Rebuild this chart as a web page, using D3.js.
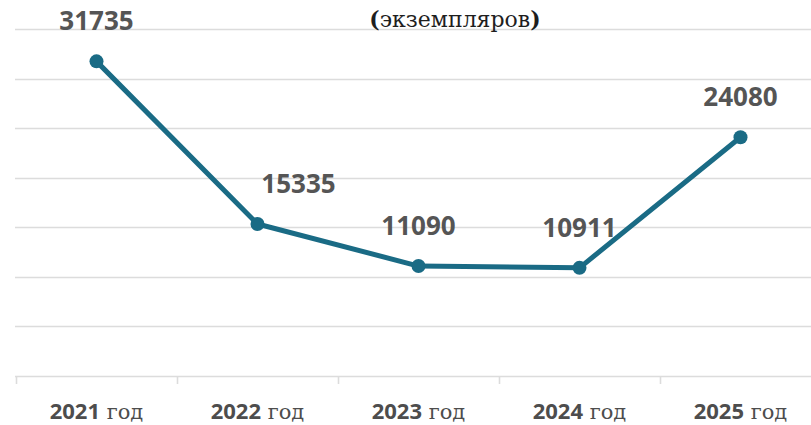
<!DOCTYPE html>
<html>
<head>
<meta charset="utf-8">
<script src="https://cdn.jsdelivr.net/npm/d3@7"></script>
<style>
  body { margin: 0; background: #fff; }
  svg { display: block; }
</style>
</head>
<body>
<svg id="chart" width="811" height="425"></svg>
<script>
// data
var years = ["2021", "2022", "2023", "2024", "2025"];
var copies = [31735, 15335, 11090, 10911, 24080];
var yTicks = [0, 5000, 10000, 15000, 20000, 25000, 30000, 35000];
var yearSuffix = "год";
var title = "экземпляров";

var svg = d3.select('#chart');
var W = 811, H = 425;

var xScale = d3.scaleBand()
    .domain(years)
    .range([16, 821]);

var yScale = d3.scaleLinear()
    .domain([0, 35000])
    .range([376, 29]);

// gridlines
svg.append("g")
    .selectAll("line")
    .data(yTicks)
    .enter()
    .append("line")
    .attr("x1", 15)
    .attr("x2", W)
    .attr("y1", function(d) { return Math.round(yScale(d)) + 0.5; })
    .attr("y2", function(d) { return Math.round(yScale(d)) + 0.5; })
    .style("stroke", "#dcdcdc")
    .style("stroke-width", 1.6);

// x axis tick marks (band edges)
svg.append("g")
    .selectAll("line")
    .data(years)
    .enter()
    .append("line")
    .attr("x1", function(d) { return Math.round(xScale(d)) + 0.5; })
    .attr("x2", function(d) { return Math.round(xScale(d)) + 0.5; })
    .attr("y1", yScale(0))
    .attr("y2", yScale(0) + 8)
    .style("stroke", "#dcdcdc")
    .style("stroke-width", 1.6);

// x labels
var xl = svg.append("g")
    .selectAll("text")
    .data(years)
    .enter()
    .append("text")
    .attr("x", function(d) { return xScale(d) + xScale.bandwidth() / 2; })
    .attr("y", 419)
    .attr("text-anchor", "middle")
    .style("fill", "#4d4d4d");
xl.append("tspan")
    .style("font-family", "'Open Sans', sans-serif")
    .style("font-weight", "bold")
    .style("font-size", "22px")
    .text(function(d) { return d; });
xl.append("tspan")
    .style("font-family", "'DejaVu Serif', serif")
    .style("font-size", "21px")
    .text(" " + yearSuffix);

// line
var line = d3.line()
    .x(function(d, i) { return xScale(years[i]) + xScale.bandwidth() / 2; })
    .y(function(d) { return yScale(d); });

svg.append("path")
    .datum(copies)
    .attr("d", line)
    .style("fill", "none")
    .style("stroke", "#1a6b85")
    .style("stroke-width", 5)
    .style("stroke-linejoin", "round");

svg.append("g")
    .selectAll("circle")
    .data(copies)
    .enter()
    .append("circle")
    .attr("cx", function(d, i) { return xScale(years[i]) + xScale.bandwidth() / 2; })
    .attr("cy", function(d) { return yScale(d); })
    .attr("r", 7)
    .style("fill", "#1a6b85");

// value labels (second one nudged right, clear of the line)
svg.append("g")
    .selectAll("text")
    .data(copies)
    .enter()
    .append("text")
    .attr("x", function(d, i) { return xScale(years[i]) + xScale.bandwidth() / 2 + (i == 1 ? 41 : 0); })
    .attr("y", function(d) { return yScale(d) - 31; })
    .attr("text-anchor", "middle")
    .style("font-family", "'Open Sans', sans-serif")
    .style("font-weight", "bold")
    .style("font-size", "26px")
    .style("fill", "#555")
    .text(function(d) { return d; });

// title
var t = svg.append("text")
    .attr("x", 455)
    .attr("y", 27)
    .attr("text-anchor", "middle")
    .style("font-family", "'DejaVu Serif', serif")
    .style("font-size", "22px")
    .style("fill", "#1e1e1e");
t.append("tspan").style("font-weight", "bold").text("(");
t.append("tspan").style("font-weight", "normal").text(title);
t.append("tspan").style("font-weight", "bold").text(")");
</script>
</body>
</html>
